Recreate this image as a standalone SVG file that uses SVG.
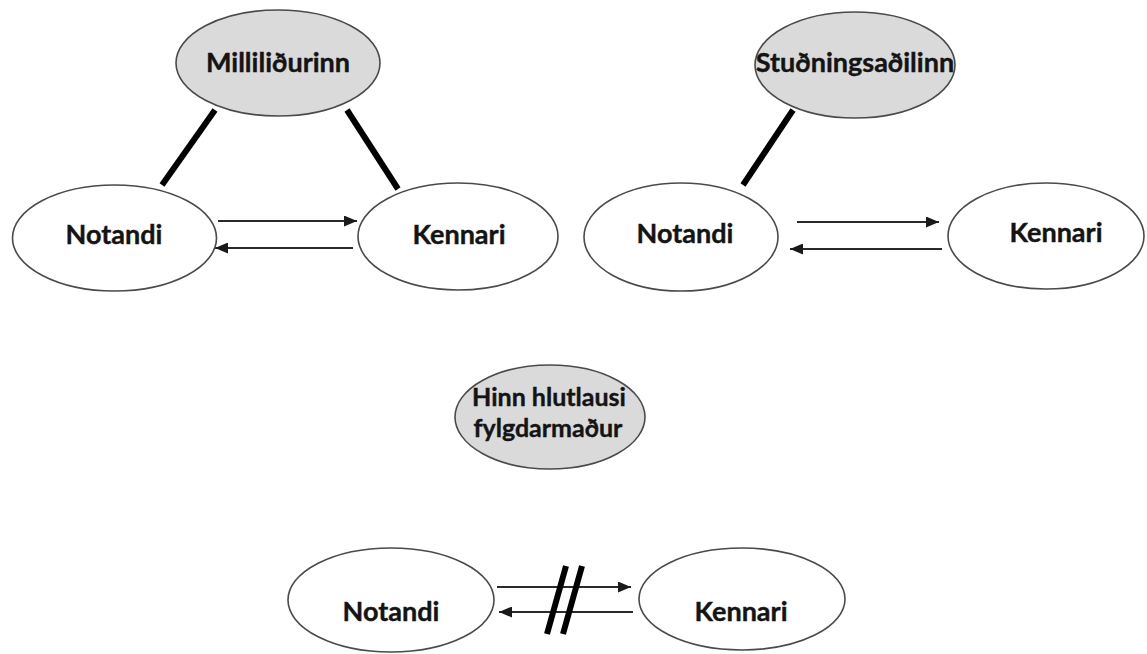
<svg xmlns="http://www.w3.org/2000/svg" width="1147" height="654" viewBox="0 0 1147 654">
<defs>
<style>
.node ellipse{fill:#fff;stroke:#4a4a4a;stroke-width:1.6}
.node.gray ellipse{fill:#dadada}
.node text{font-family:Lato,"Open Sans","DejaVu Sans",sans-serif;font-weight:bold;font-size:27px;fill:#141414;text-anchor:middle;stroke:#141414;stroke-width:0.4}
.node text.small{font-size:25px}
.arrow{stroke:#2a2a2a;stroke-width:2.2;fill:none;marker-end:url(#ah)}
.thick{stroke:#000;stroke-width:6;fill:none}
</style>
<marker id="ah" markerUnits="userSpaceOnUse" markerWidth="13" markerHeight="11" refX="13" refY="5.5" orient="auto">
<path d="M0,0 L13,5.5 L0,11 z" fill="#1a1a1a"/>
</marker>
</defs>
<rect width="1147" height="654" fill="#fff"/>
<g id="connectors">
<line class="thick" x1="215" y1="110" x2="162" y2="185"/>
<line class="thick" x1="347" y1="110" x2="398" y2="189"/>
<line class="arrow" x1="218" y1="221" x2="357" y2="221"/>
<line class="arrow" x1="353" y1="248" x2="215" y2="248"/>
<line class="thick" x1="793" y1="110" x2="743" y2="185"/>
<line class="arrow" x1="797" y1="222" x2="939" y2="222"/>
<line class="arrow" x1="942" y1="249" x2="790" y2="249"/>
<line class="arrow" x1="497" y1="587" x2="631" y2="587"/>
<line class="arrow" x1="633" y1="612" x2="499" y2="612"/>
<line class="thick" x1="566" y1="566" x2="547" y2="634"/>
<line class="thick" x1="582" y1="566" x2="563" y2="634"/>
</g>
<g id="n-millilidurinn" class="node gray">
<ellipse cx="278" cy="63" rx="102" ry="53"/>
<text x="278" y="72">Milliliðurinn</text>
</g>
<g id="n-notandi1" class="node">
<ellipse cx="114.5" cy="238" rx="102" ry="53"/>
<text x="114" y="244">Notandi</text>
</g>
<g id="n-kennari1" class="node">
<ellipse cx="458" cy="236.5" rx="100" ry="53.5"/>
<text x="459" y="244">Kennari</text>
</g>
<g id="n-studningsadilinn" class="node gray">
<ellipse cx="855" cy="65" rx="100" ry="53"/>
<text x="855" y="72">Stuðningsaðilinn</text>
</g>
<g id="n-notandi2" class="node">
<ellipse cx="681" cy="237" rx="97" ry="54"/>
<text x="685" y="243">Notandi</text>
</g>
<g id="n-kennari2" class="node">
<ellipse cx="1046" cy="236" rx="98" ry="53"/>
<text x="1056" y="242">Kennari</text>
</g>
<g id="n-fylgdarmadur" class="node gray">
<ellipse cx="550" cy="417" rx="95" ry="52"/>
<text class="small" x="549" y="406">Hinn hlutlausi</text>
<text class="small" x="548" y="437">fylgdarmaður</text>
</g>
<g id="n-notandi3" class="node">
<ellipse cx="391" cy="600" rx="103" ry="52"/>
<text x="391" y="621">Notandi</text>
</g>
<g id="n-kennari3" class="node">
<ellipse cx="742" cy="599" rx="103" ry="51"/>
<text x="741" y="621">Kennari</text>
</g>
</svg>
